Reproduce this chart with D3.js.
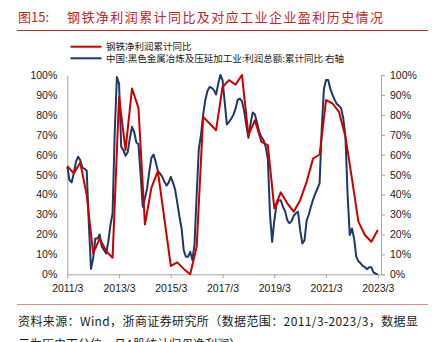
<!DOCTYPE html>
<html>
<head>
<meta charset="utf-8">
<script src="https://cdn.jsdelivr.net/npm/d3@7"></script>
<style>
  html, body { margin: 0; padding: 0; background: #fff; }
  svg { display: block; }
  .cjk { font-family: "Noto Sans CJK SC", "Noto Sans", sans-serif; }
  .num { font-family: "Liberation Sans", Arial, sans-serif; }
</style>
</head>
<body>
<svg id="chart" width="439" height="342"></svg>
<script>
// Month index 0 = 2011/3, 144 = 2023/3
const xTickMonths = [0, 24, 48, 72, 96, 120, 144];
const xTickLabels = ["2011/3", "2013/3", "2015/3", "2017/3", "2019/3", "2021/3", "2023/3"];
const yTicks = [0, 10, 20, 30, 40, 50, 60, 70, 80, 90, 100];

// 钢铁净利润累计同比 (historical percentile, quarterly)
const steelMonths = [0, 3, 6, 9, 12, 15, 18, 21, 24, 27, 30, 33, 36, 39, 42, 45, 48, 51, 54, 57,
  60, 63, 66, 69, 72, 75, 78, 81, 84, 87, 90, 93, 96, 99, 102, 105, 108, 111, 114, 117,
  120, 123, 126, 129, 132, 135, 138, 141, 144];
const steelValues = [54.3, 50.6, 56.1, 39.7, 10.5, 18, 11.7, 8.3, 89, 62.3, 93.2, 83.5, 25, 43.4, 51.8, 28, 4.2, 6.0, 2.7, 0,
  13.8, 79, 75.7, 72.3, 94, 97.4, 95.2, 100, 69.8, 77.3, 66.5, 64.8, 33.1, 41.1, 35.6, 31.4, 37.2, 46.4, 58.1, 60.1,
  87.4, 85.7, 81.5, 69, 48, 26.4, 19.7, 16.3, 22.2];

// 黑色金属冶炼及压延加工业 利润总额累计同比 (historical percentile, monthly, right axis)
const industryValues = [
  54, 47.3, 46.1, 50.6, 56.4, 59, 57.3, 53.4, 53, 52, 25, 2.7,
  8, 18, 18, 20, 13.8, 12.2, 10.5, 16.3, 24.7, 30.6, 71.5, 99,
  95.7, 64, 62.3, 59.5, 61.2, 68.2, 74, 71.5, 66.2, 65.2, 49.8, 33.9,
  38.1, 43.1, 51.4, 58.4, 60.1, 56.4, 51.8, 50.6, 49, 46.5, 44.5, 46,
  48.9, 46, 42.5, 36, 29, 23, 12, 8.8, 8.8, 11.3, 7.2, 15,
  40, 63, 70, 80, 87.5, 92, 94, 93.5, 92.4, 90.2, 95.7, 100,
  97.4, 86.5, 75.2, 76.5, 78, 80, 83, 87.5, 88.2, 86.9, 82, 75,
  68.5, 75.7, 81.2, 80.2, 76, 71.5, 69, 67.3, 64, 58, 30, 16.3,
  27, 34.7, 37.2, 37.2, 33.9, 31.7, 27.2, 25.6, 26.7, 29.4, 30.6, 31.4,
  22, 15.5, 17, 27, 30, 34, 37.5, 40.5, 43, 45.6, 73, 93,
  97.5, 97.5, 93, 90, 87.5, 85.4, 84.5, 83.2, 78.2, 69, 39.7, 19.7,
  23, 18, 9, 6.5, 5.5, 4.2, 3.6, 2.5, 3.5, 3.5, 1, 0.3,
  0
];

const svg = d3.select("#chart");
const plot = { left: 67.3, right: 381, top: 75, bottom: 274.3 };

const x = d3.scaleLinear().domain([0, 144]).range([plot.left, 377.8]);
const yL = d3.scaleLinear().domain([0, 100]).range([plot.bottom, plot.top]);
const yR = d3.scaleLinear().domain([0, 100]).range([plot.bottom, plot.top]);

const pct = d => d + "%";
const axisGray = "#a6a6a6";
const textColor = "#1a1a1a";

// Title
svg.append("text").attr("class", "cjk")
  .attr("x", 18).attr("y", 22)
  .attr("font-size", 13).attr("fill", "#c0262d")
  .text("图15:");
svg.append("text").attr("class", "cjk")
  .attr("x", 67).attr("y", 22)
  .attr("font-size", 13).attr("fill", "#c0262d")
  .attr("textLength", 316).attr("lengthAdjust", "spacing")
  .text("钢铁净利润累计同比及对应工业企业盈利历史情况");
svg.append("line")
  .attr("x1", 17).attr("x2", 428).attr("y1", 30.5).attr("y2", 30.5)
  .attr("stroke", "#d0222a").attr("stroke-width", 1);

// Legend
const legend = [
  { label: "钢铁净利润累计同比", color: "#cc0000", y: 46.7 },
  { label: "中国:黑色金属冶炼及压延加工业:利润总额:累计同比 右轴", color: "#1f3864", y: 58.3 }
];
legend.forEach(d => {
  svg.append("line").attr("x1", 70.5).attr("x2", 101.5)
    .attr("y1", d.y).attr("y2", d.y)
    .attr("stroke", d.color).attr("stroke-width", 2);
  svg.append("text").attr("class", "cjk")
    .attr("x", 106).attr("y", d.y + 3.3)
    .attr("font-size", 9.5).attr("fill", textColor)
    .text(d.label);
});

// Axes
const gx = svg.append("g")
  .attr("transform", `translate(0,${plot.bottom})`)
  .call(d3.axisBottom(x).tickValues(xTickMonths)
    .tickFormat((d, i) => xTickLabels[i]).tickSize(4).tickSizeOuter(0));
gx.select(".domain").attr("stroke", axisGray).attr("d", `M${plot.left},0.5H${plot.right}`);
gx.selectAll(".tick line").attr("stroke", axisGray);
gx.selectAll(".tick text").attr("class", "num").attr("font-size", 10.5)
  .attr("fill", textColor).attr("dy", "1.05em");

const gyL = svg.append("g")
  .attr("transform", `translate(${plot.left},0)`)
  .call(d3.axisLeft(yL).tickValues(yTicks).tickFormat(pct).tickSize(0).tickPadding(10));
gyL.select(".domain").attr("stroke", axisGray);
gyL.selectAll(".tick text").attr("class", "num").attr("font-size", 10.5).attr("fill", textColor);

const gyR = svg.append("g")
  .attr("transform", `translate(${plot.right},0)`)
  .call(d3.axisRight(yR).tickValues(yTicks).tickFormat(pct).tickSize(4).tickPadding(5));
gyR.select(".domain").attr("stroke", axisGray);
gyR.selectAll(".tick line").attr("stroke", axisGray);
gyR.selectAll(".tick text").attr("class", "num").attr("font-size", 10.5).attr("fill", textColor);

// Series
const industryLine = d3.line().x((d, i) => x(i)).y(d => yR(d));
svg.append("path").datum(industryValues)
  .attr("d", industryLine)
  .attr("fill", "none").attr("stroke", "#1f3864").attr("stroke-width", 2)
  .attr("stroke-linejoin", "round");

const steelLine = d3.line().x((d, i) => x(steelMonths[i])).y(d => yL(d));
svg.append("path").datum(steelValues)
  .attr("d", steelLine)
  .attr("fill", "none").attr("stroke", "#cc0000").attr("stroke-width", 2)
  .attr("stroke-linejoin", "round");

// Source note
svg.append("line")
  .attr("x1", 17).attr("x2", 428).attr("y1", 304.5).attr("y2", 304.5)
  .attr("stroke", "#e58a8a").attr("stroke-width", 1);
svg.append("text").attr("class", "cjk")
  .attr("x", 18).attr("y", 326)
  .attr("font-size", 12).attr("fill", textColor)
  .attr("textLength", 400).attr("lengthAdjust", "spacing")
  .text("资料来源：Wind，浙商证券研究所（数据范围：2011/3-2023/3，数据显");
svg.append("text").attr("class", "cjk")
  .attr("x", 18).attr("y", 349)
  .attr("font-size", 12).attr("fill", textColor)
  .text("示为历史百分位，且A股统计归母净利润）");
</script>
</body>
</html>
